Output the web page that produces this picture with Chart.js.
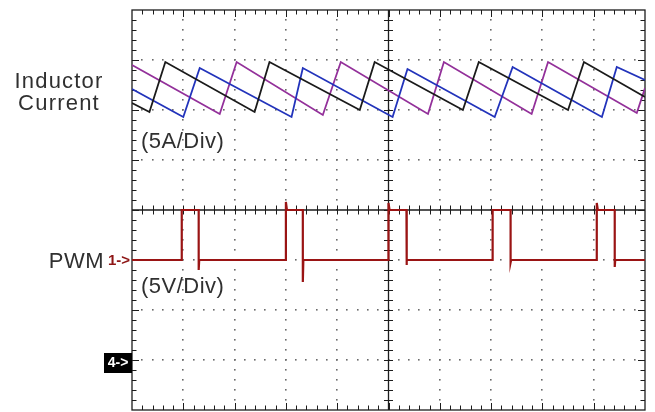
<!DOCTYPE html>
<html>
<head>
<meta charset="utf-8">
<script src="https://cdn.jsdelivr.net/npm/chart.js@4.4.1/dist/chart.umd.min.js"></script>
<style>
    html, body { margin: 0; padding: 0; background: #fff; }
    canvas { display: block; }
</style>
</head>
<body>
<canvas id="scope" width="655" height="412"></canvas>
<script>
// time axis in divisions (0..10), amplitude in divisions (-4..4)
const phaseBlackT = [0, 0.34, 0.65, 2.39, 2.68, 4.44, 4.73, 6.45, 6.76, 8.50, 8.81, 10];
const phaseBlackI = [2.14, 1.96, 2.96, 1.96, 2.96, 2.00, 2.96, 2.00, 2.96, 2.00, 2.96, 2.26];

const phaseBlueT = [0, 1.00, 1.32, 3.11, 3.33, 5.08, 5.37, 7.07, 7.42, 9.16, 9.45, 10];
const phaseBlueI = [2.42, 1.86, 2.84, 1.86, 2.84, 1.86, 2.82, 1.86, 2.86, 1.86, 2.86, 2.60];

const phasePurpleT = [0, 1.71, 2.04, 3.72, 4.07, 5.77, 6.08, 7.79, 8.11, 9.84, 10];
const phasePurpleI = [2.90, 1.92, 2.96, 1.90, 2.96, 1.92, 2.96, 1.92, 2.96, 1.94, 2.44];

const pwmT = [0, 0.97, 0.97, 1.30, 1.30, 1.31, 3.00, 3.00, 3.02, 3.33, 3.33, 3.34,
              5.00, 5.00, 5.02, 5.35, 5.35, 5.36, 7.03, 7.03, 7.38, 7.38, 7.39,
              9.06, 9.06, 9.08, 9.41, 9.41, 9.42, 10];
const pwmV = [-1, -1, 0, 0, -1.2, -1, -1, 0.16, 0, 0, -1.44, -1,
              -1, 0.14, 0, 0, -1.1, -1, -1, 0, 0, -1.05, -1,
              -1, 0.14, 0, 0, -1.14, -1, -1];

const xDivs = 10;
const yDivs = 4;

function toPoints(ts, vs) {
    return ts.map(function (t, i) { return { x: t, y: vs[i] }; });
}

function trace(label, ts, vs, color, width) {
    return {
        label: label,
        data: toPoints(ts, vs),
        borderColor: color,
        borderWidth: width,
        pointRadius: 0,
        tension: 0,
        fill: false
    };
}

// scope graticule: dotted grid, framed edges with minor ticks, centre cross
const graticule = {
    id: 'graticule',
    beforeDatasetsDraw: function (chart) {
        const ctx = chart.ctx;
        const sx = chart.scales.x;
        const sy = chart.scales.y;
        const L = sx.getPixelForValue(0), R = sx.getPixelForValue(xDivs);
        const T = sy.getPixelForValue(yDivs), B = sy.getPixelForValue(-yDivs);
        const cx = sx.getPixelForValue(xDivs / 2), cy = sy.getPixelForValue(0);

        ctx.save();
        // dotted grid
        ctx.fillStyle = '#6a6a6a';
        for (let i = 1; i < xDivs; i++) {
            if (i === xDivs / 2) continue;
            const px = sx.getPixelForValue(i);
            for (let k = 1; k < yDivs * 10; k++) {
                const py = sy.getPixelForValue(-yDivs + k / 5);
                ctx.fillRect(Math.round(px) - 1, Math.round(py) - 1, 1.6, 1.6);
            }
        }
        for (let j = -yDivs + 1; j < yDivs; j++) {
            if (j === 0) continue;
            const py = sy.getPixelForValue(j);
            for (let k = 1; k < xDivs * 5; k++) {
                const px = sx.getPixelForValue(k / 5);
                ctx.fillRect(Math.round(px) - 1, Math.round(py) - 1, 1.6, 1.6);
            }
        }

        // frame and centre lines
        ctx.strokeStyle = '#1c1c1c';
        ctx.lineWidth = 1.3;
        ctx.strokeRect(L, T, R - L, B - T);
        ctx.beginPath();
        ctx.moveTo(L, cy); ctx.lineTo(R, cy);
        ctx.moveTo(cx, T); ctx.lineTo(cx, B);
        ctx.stroke();

        // ticks
        ctx.lineWidth = 1;
        ctx.beginPath();
        for (let k = 1; k < xDivs * 5; k++) {
            const px = Math.round(sx.getPixelForValue(k / 5)) + 0.5;
            const len = (k % 5 === 0) ? 7 : 4.5;
            ctx.moveTo(px, T); ctx.lineTo(px, T + len);
            ctx.moveTo(px, B); ctx.lineTo(px, B - len);
            ctx.moveTo(px, cy - 4.5); ctx.lineTo(px, cy + 4.5);
        }
        for (let k = 1; k < yDivs * 10; k++) {
            const py = Math.round(sy.getPixelForValue(-yDivs + k / 5)) + 0.5;
            const len = (k % 5 === 0) ? 7 : 4.5;
            ctx.moveTo(L, py); ctx.lineTo(L + len, py);
            ctx.moveTo(R, py); ctx.lineTo(R - len, py);
            ctx.moveTo(cx - 4.5, py); ctx.lineTo(cx + 4.5, py);
        }
        ctx.stroke();
        ctx.restore();
    },
    afterDraw: function (chart) {
        const ctx = chart.ctx;
        const sy = chart.scales.y;
        ctx.save();
        ctx.fillStyle = '#303030';
        ctx.font = '22px "Liberation Sans", Arial, sans-serif';
        ctx.textBaseline = 'alphabetic';
        ctx.textAlign = 'center';
        ctx.letterSpacing = '1.2px';
        ctx.fillText('Inductor', 59, 88);
        ctx.fillText('Current', 59, 110);
        ctx.letterSpacing = '0.5px';
        ctx.textAlign = 'right';
        ctx.fillText('PWM', 104, 268);
        ctx.textAlign = 'left';
        ctx.fillText('(5A/Div)', 141, 148);
        ctx.fillText('(5V/Div)', 141, 293);
        ctx.letterSpacing = '0px';

        // channel markers
        ctx.fillStyle = '#8e1515';
        ctx.font = 'bold 15px "Liberation Sans", Arial, sans-serif';
        ctx.fillText('1->', 108, 265);

        const y4 = sy.getPixelForValue(-3);
        ctx.fillStyle = '#000';
        ctx.fillRect(104, y4 - 7, 28, 20);
        ctx.fillStyle = '#fff';
        ctx.font = 'bold 14px "Liberation Sans", Arial, sans-serif';
        ctx.textAlign = 'center';
        ctx.textBaseline = 'middle';
        ctx.fillText('4->', 118, y4 + 3);
        ctx.restore();
    }
};

const config = {
    type: 'line',
    data: {
        datasets: [
            trace('PWM', pwmT, pwmV, '#9a1414', 2.2),
            trace('Phase 1', phaseBlackT, phaseBlackI, '#1a1a1a', 1.8),
            trace('Phase 2', phaseBlueT, phaseBlueI, '#2233bb', 1.8),
            trace('Phase 3', phasePurpleT, phasePurpleI, '#93309a', 1.8)
        ]
    },
    options: {
        responsive: false,
        animation: false,
        layout: { padding: { left: 132, right: 10, top: 10, bottom: 2 } },
        plugins: {
            legend: { display: false },
            tooltip: { enabled: false }
        },
        scales: {
            x: { type: 'linear', min: 0, max: xDivs, display: false },
            y: { type: 'linear', min: -yDivs, max: yDivs, display: false }
        }
    },
    plugins: [graticule]
};

new Chart(document.getElementById('scope').getContext('2d'), config);
</script>
</body>
</html>
